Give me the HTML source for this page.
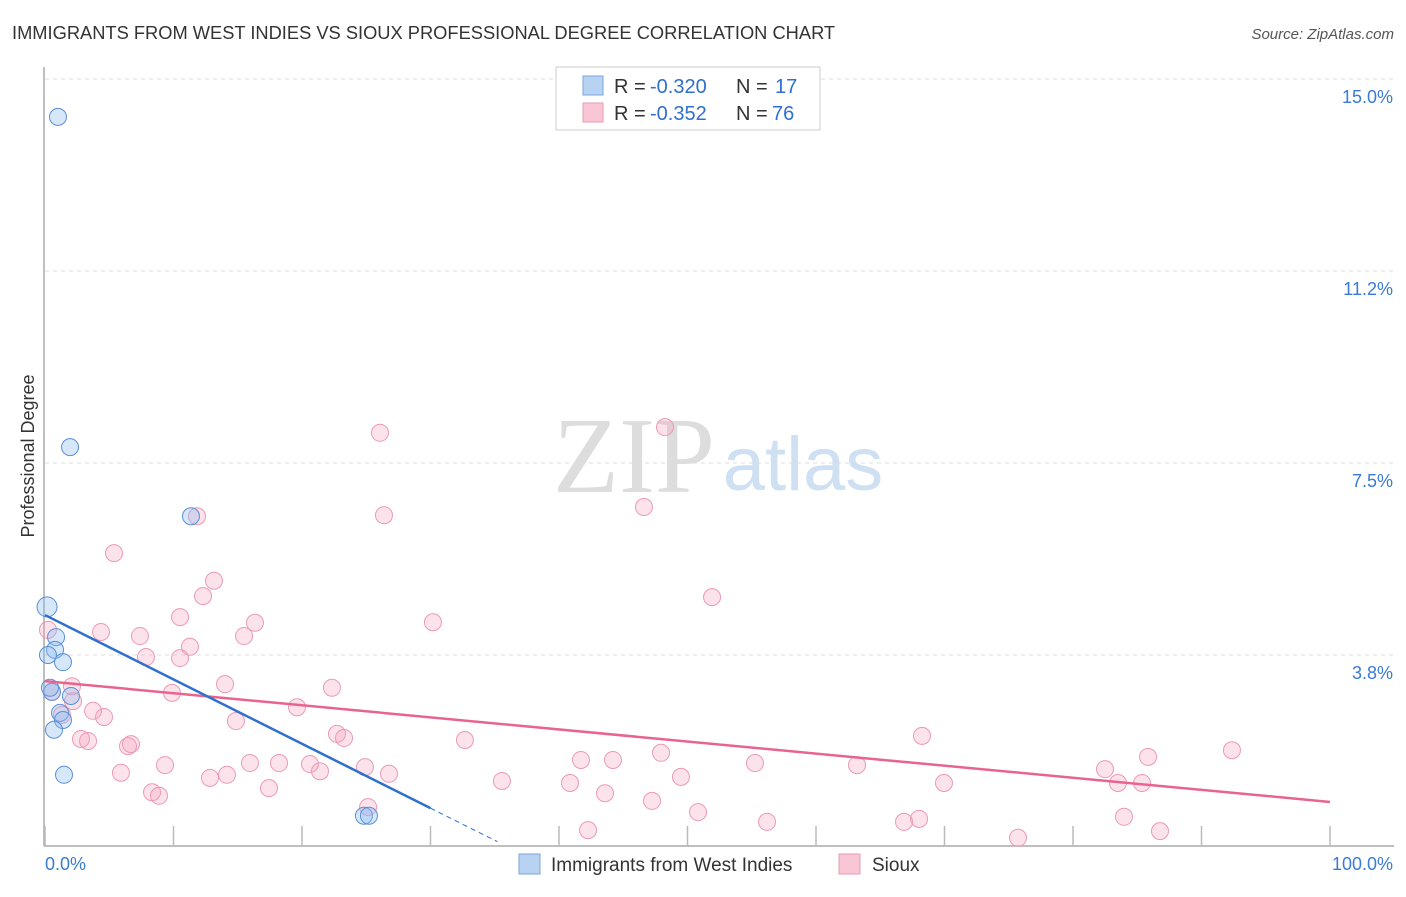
<!DOCTYPE html>
<html><head><meta charset="utf-8"><style>
body{margin:0;background:#fff;font-family:"Liberation Sans",sans-serif}
svg text{font-family:"Liberation Sans",sans-serif}
</style></head><body>
<svg id="c" width="1406" height="892">
<text x="12" y="39" font-size="18.3" fill="#333">IMMIGRANTS FROM WEST INDIES VS SIOUX PROFESSIONAL DEGREE CORRELATION CHART</text>
<text x="1394" y="39" font-size="15" fill="#555" font-style="italic" text-anchor="end">Source: ZipAtlas.com</text>
<text x="634" y="492" font-size="108" fill="#ddd" text-anchor="middle" style="font-family:'Liberation Serif',serif">ZIP</text>
<text x="803" y="490" font-size="76" fill="#cfe0f3" text-anchor="middle">atlas</text>
<text transform="translate(34,456) rotate(-90)" font-size="18" fill="#333" text-anchor="middle">Professional Degree</text>
<g id="grid"></g><g id="marks"></g>
<g>
<rect x="556" y="67" width="264" height="63" fill="#fff" stroke="#ccc"/>
<rect x="583" y="76" width="20" height="19" fill="#b8d2f2" stroke="#7aa6df"/>
<rect x="583" y="103" width="20" height="19" fill="#f9c6d6" stroke="#eb9ab5"/>
<text x="614" y="93" font-size="20" fill="#333">R =</text>
<text x="650" y="93" font-size="20" fill="#2f6fd0">-0.320</text>
<text x="736" y="93" font-size="20" fill="#333">N =</text>
<text x="775" y="93" font-size="20" fill="#2f6fd0">17</text>
<text x="614" y="120" font-size="20" fill="#333">R =</text>
<text x="650" y="120" font-size="20" fill="#2f6fd0">-0.352</text>
<text x="736" y="120" font-size="20" fill="#333">N =</text>
<text x="772" y="120" font-size="20" fill="#2f6fd0">76</text>
</g>
<g>
<rect x="519" y="854" width="21" height="20" fill="#b8d2f2" stroke="#7aa6df"/>
<text x="551" y="871" font-size="19" fill="#333">Immigrants from West Indies</text>
<rect x="839" y="854" width="21" height="20" fill="#f9c6d6" stroke="#eb9ab5"/>
<text x="872" y="871" font-size="19" fill="#333">Sioux</text>
</g>
</svg>
<script>
const yTicks=[3.75,7.5,11.25,15];
const yTickLabels=["3.8%","7.5%","11.2%","15.0%"];
const xTickVals=[0,10,20,30,40,50,60,70,80,90,100];
const blueX=[1.01,1.95,0.16,0.86,0.78,0.23,1.40,0.54,0.39,2.02,1.17,1.40,0.70,1.48,11.36,24.82,25.21];
const blueY=[14.26,7.81,4.69,4.10,3.85,3.75,3.61,3.03,3.11,2.95,2.62,2.48,2.29,1.41,6.46,0.61,0.61];
const pinkX=[0.23,0.54,2.10,2.18,1.32,3.74,4.59,4.36,5.37,7.39,7.86,9.88,10.51,10.51,11.28,12.30,13.15,15.49,16.34,14.01,14.86,2.80,3.35,5.91,6.46,6.69,8.33,8.87,9.34,12.84,14.16,15.95,17.43,18.21,19.61,20.62,21.40,22.33,22.72,23.27,24.90,25.14,26.77,26.07,26.38,30.19,32.68,35.56,40.86,41.71,42.26,43.58,44.20,46.61,47.24,47.94,48.25,49.49,50.82,51.91,55.25,56.19,63.19,66.85,68.02,68.25,69.96,75.72,82.49,83.50,83.97,85.37,85.84,86.77,92.37,11.83];
const pinkY=[4.24,3.03,3.14,2.85,2.58,2.66,2.54,4.20,5.74,4.12,3.71,3.01,4.49,3.69,3.91,4.90,5.20,4.12,4.38,3.18,2.46,2.11,2.07,1.45,1.97,2.01,1.07,1.00,1.60,1.35,1.41,1.64,1.15,1.64,2.73,1.62,1.48,3.11,2.21,2.13,1.56,0.78,1.43,8.09,6.48,4.39,2.09,1.29,1.25,1.70,0.33,1.05,1.70,6.64,0.90,1.84,8.20,1.37,0.68,4.88,1.64,0.49,1.60,0.49,0.55,2.17,1.25,0.18,1.52,1.25,0.59,1.25,1.76,0.31,1.89,6.46];
const blueTrend=[4.53,-0.1257];const blueSolidEnd=30,blueDashEnd=35.2;
const pinkTrend=[3.24,-0.0236];
const X=v=>45+v*12.85, Y=v=>847-v*51.2;
const NS="http://www.w3.org/2000/svg";
function mk(p,t,a){const e=document.createElementNS(NS,t);for(const k in a)e.setAttribute(k,a[k]);p.appendChild(e);return e;}
const g=document.getElementById('grid'),m=document.getElementById('marks');
yTicks.forEach((t,i)=>{
 const l=mk(g,'line',{x1:45,x2:1394,y1:Y(t),y2:Y(t),stroke:'#ddd','stroke-dasharray':'4,4'});
 
 
 const tx=mk(g,'text',{x:1393,y:Y(t)+24,'font-size':18,fill:'#3a7bd5','text-anchor':'end'});tx.textContent=yTickLabels[i];
 
 
});
const ax=mk(g,'line',{x1:44,x2:44,y1:67,y2:846,stroke:'#aaa','stroke-width':1.5});


const ax2=mk(g,'line',{x1:44,x2:1394,y1:846,y2:846,stroke:'#aaa','stroke-width':1.5});


xTickVals.forEach(v=>{const t=mk(g,'line',{x1:X(v),x2:X(v),y1:826,y2:846,stroke:'#bbb','stroke-width':1.5});
 
 });
const x0=mk(g,'text',{x:45,y:870,'font-size':18,fill:'#3a7bd5'});x0.textContent='0.0%';


const x1=mk(g,'text',{x:1393,y:870,'font-size':18,fill:'#3a7bd5','text-anchor':'end'});x1.textContent='100.0%';


pinkX.forEach((v,i)=>{const c=mk(m,'circle',{cx:X(v),cy:Y(pinkY[i]),r:8.5,fill:'rgba(244,160,188,0.3)',stroke:'#eb9ab5','stroke-width':1});
 
 });
blueX.forEach((v,i)=>{const c=mk(m,'circle',{cx:X(v),cy:Y(blueY[i]),r:i==2?10:8.5,fill:'rgba(140,185,240,0.35)',stroke:'#5b8fd8','stroke-width':1});
 
 });
const bf=x=>blueTrend[0]+blueTrend[1]*x, pf=x=>pinkTrend[0]+pinkTrend[1]*x;
const pl=mk(m,'line',{x1:X(0),y1:Y(pf(0)),x2:X(100),y2:Y(pf(100)),stroke:'#e8648f','stroke-width':2.5});


const bl=mk(m,'line',{x1:X(0),y1:Y(bf(0)),x2:X(blueSolidEnd),y2:Y(bf(blueSolidEnd)),stroke:'#2f6fd0','stroke-width':2.5});


const bd=mk(m,'line',{x1:X(blueSolidEnd),y1:Y(bf(blueSolidEnd)),x2:X(blueDashEnd),y2:Y(bf(blueDashEnd)),stroke:'#2f6fd0','stroke-width':1,'stroke-dasharray':'5,4'});


</script>
</body></html>
